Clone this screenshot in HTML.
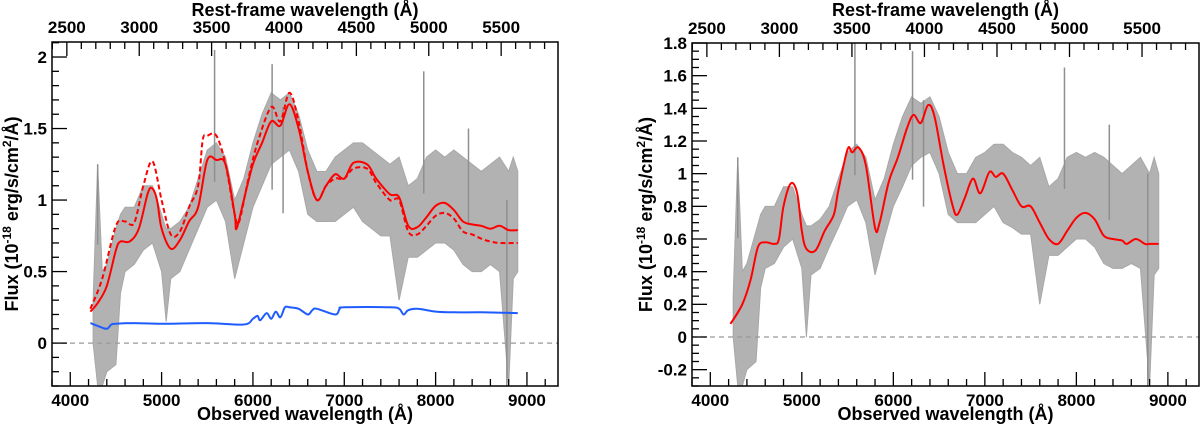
<!DOCTYPE html>
<html><head><meta charset="utf-8"><style>
body{margin:0;background:#fff;}
svg text{font-family:"Liberation Sans",Arial,sans-serif;font-weight:bold;fill:#000;}
</style></head><body>
<svg id="fig" width="1200" height="425" viewBox="0 0 1200 425" xmlns="http://www.w3.org/2000/svg"></svg>
<script>
// ---- data ----
const grayWlL=[4250,4300,4350,4400,4500,4550,4600,4700,4800,4900,5000,5050,5100,5200,5300,5400,5500,5600,5700,5800,5900,6000,6100,6200,6300,6400,6500,6600,6700,6800,6900,7000,7100,7200,7300,7400,7500,7600,7700,7800,7900,8000,8100,8200,8300,8400,8500,8600,8700,8800,8850,8900];
const grayHiL=[0.3,1.25,0.5,0.55,0.8,0.9,0.95,0.95,1.1,1.1,0.9,0.8,0.8,0.85,0.95,1.15,1.35,1.4,1.3,1.0,1.15,1.4,1.6,1.75,1.7,1.75,1.6,1.35,1.2,1.2,1.3,1.35,1.4,1.4,1.35,1.3,1.25,1.3,1.1,1.15,1.3,1.35,1.3,1.35,1.3,1.25,1.2,1.25,1.3,1.2,1.3,1.2];
const grayLoL=[0.0,-0.3,-0.3,-0.2,-0.15,0.35,0.5,0.55,0.65,0.7,0.5,0.15,0.45,0.5,0.65,0.8,0.95,1.0,0.85,0.45,0.7,0.95,1.1,1.25,1.3,1.35,1.2,0.9,0.85,0.85,0.85,0.9,0.95,0.85,0.8,0.75,0.75,0.3,0.6,0.6,0.65,0.7,0.7,0.65,0.55,0.5,0.5,0.55,0.5,-0.3,0.45,0.5];
const spikeWlL=[4300,5580,6210,6330,7870,8360,8780];
const spikeTopL=[1.25,2.05,1.95,1.65,1.9,1.5,-0.3];
const redWlL=[4220,4300,4400,4500,4550,4650,4750,4850,4900,4950,5000,5100,5200,5300,5400,5500,5600,5700,5800,5820,5900,6000,6100,6200,6300,6400,6500,6600,6700,6800,6900,7000,7100,7250,7350,7500,7600,7700,7800,7900,8000,8100,8200,8300,8400,8500,8600,8700,8800,8900];
const redL=[0.22,0.28,0.4,0.65,0.71,0.71,0.8,1.05,1.08,1.0,0.8,0.66,0.72,0.85,0.95,1.28,1.28,1.25,0.9,0.8,1.0,1.25,1.4,1.55,1.52,1.67,1.5,1.2,1.0,1.1,1.18,1.15,1.26,1.25,1.15,1.04,1.02,0.82,0.81,0.88,0.96,0.98,0.93,0.85,0.83,0.82,0.8,0.82,0.79,0.79];
const dashWlL=[4220,4350,4500,4600,4700,4800,4900,5000,5100,5200,5300,5400,5450,5500,5600,5700,5800,5850,5950,6050,6200,6300,6400,6500,6600,6700,6800,6900,7000,7100,7250,7350,7500,7600,7700,7800,7900,8000,8100,8200,8300,8400,8500,8600,8700,8900];
const dashL=[0.24,0.45,0.82,0.85,0.84,1.1,1.27,1.0,0.76,0.78,0.95,1.1,1.42,1.45,1.45,1.25,0.9,0.85,1.15,1.4,1.65,1.55,1.75,1.55,1.2,1.0,1.1,1.15,1.15,1.22,1.22,1.12,1.0,1.0,0.78,0.76,0.82,0.89,0.91,0.87,0.78,0.76,0.73,0.71,0.7,0.7];
const blueWl=[4220,4300,4400,4450,4500,4700,5000,5500,5900,6000,6050,6080,6150,6200,6250,6300,6350,6400,6500,6600,6650,6700,6900,6950,7000,7500,7600,7650,7700,7800,8000,8200,8500,8900];
const blueL=[0.14,0.12,0.1,0.13,0.135,0.14,0.135,0.14,0.13,0.17,0.19,0.16,0.21,0.17,0.22,0.18,0.25,0.25,0.24,0.2,0.23,0.24,0.2,0.24,0.25,0.25,0.24,0.2,0.23,0.24,0.22,0.215,0.215,0.21];

const grayHiR=[0.25,1.1,0.4,0.45,0.65,0.75,0.8,0.8,0.92,0.92,0.75,0.68,0.68,0.72,0.8,0.97,1.13,1.18,1.1,0.84,0.97,1.18,1.35,1.47,1.43,1.47,1.35,1.13,1.0,1.0,1.1,1.13,1.18,1.18,1.13,1.1,1.05,1.1,0.92,0.97,1.1,1.13,1.1,1.13,1.1,1.05,1.0,1.05,1.1,1.0,1.1,1.0];
const grayLoR=[0.0,-0.3,-0.3,-0.2,-0.15,0.3,0.42,0.45,0.55,0.6,0.42,0.0,0.38,0.42,0.55,0.67,0.8,0.84,0.7,0.38,0.6,0.8,0.92,1.05,1.1,1.13,1.0,0.75,0.7,0.7,0.7,0.75,0.8,0.7,0.67,0.63,0.63,0.2,0.5,0.5,0.55,0.6,0.6,0.55,0.45,0.42,0.42,0.45,0.42,-0.3,0.38,0.42];
const spikeTopR=[1.1,1.8,1.75,1.45,1.65,1.3,-0.3];
const redWlR=[4220,4350,4440,4520,4600,4700,4750,4800,4880,4950,5000,5050,5150,5250,5350,5400,5500,5550,5620,5700,5800,5850,5950,6050,6150,6220,6300,6380,6450,6550,6650,6700,6780,6870,6950,7050,7120,7200,7300,7400,7500,7600,7700,7800,7900,8000,8100,8200,8300,8400,8500,8550,8650,8750,8800,8900];
const redR=[0.08,0.2,0.35,0.55,0.58,0.57,0.6,0.8,0.94,0.88,0.65,0.54,0.53,0.65,0.75,0.9,1.15,1.13,1.16,1.05,0.67,0.7,0.95,1.1,1.28,1.36,1.31,1.42,1.35,1.05,0.8,0.75,0.85,0.97,0.88,1.01,0.98,1.0,0.9,0.8,0.8,0.7,0.6,0.57,0.65,0.73,0.76,0.72,0.62,0.6,0.59,0.57,0.6,0.57,0.57,0.57];
const obsTicks=[4000,5000,6000,7000,8000,9000];
const restTicks=[2500,3000,3500,4000,4500,5000,5500];
const yTicksL=[0,0.5,1,1.5,2];
const yTicksR=[-0.2,0,0.2,0.4,0.6,0.8,1,1.2,1.4,1.6,1.8];

const NS="http://www.w3.org/2000/svg";
const svg=document.getElementById('fig');
function el(tag,attrs,parent){const e=document.createElementNS(NS,tag);for(const k in attrs)e.setAttribute(k,attrs[k]);(parent||svg).appendChild(e);return e;}
const Z=1.585;
function smooth(P){
  let d='M'+P[0][0].toFixed(1)+','+P[0][1].toFixed(1);
  for(let i=0;i<P.length-1;i++){
    const p0=P[Math.max(0,i-1)],p1=P[i],p2=P[i+1],p3=P[Math.min(P.length-1,i+2)];
    const c1x=p1[0]+(p2[0]-p0[0])/6,c1y=p1[1]+(p2[1]-p0[1])/6;
    const c2x=p2[0]-(p3[0]-p1[0])/6,c2y=p2[1]-(p3[1]-p1[1])/6;
    d+='C'+c1x.toFixed(1)+','+c1y.toFixed(1)+' '+c2x.toFixed(1)+','+c2y.toFixed(1)+' '+p2[0].toFixed(1)+','+p2[1].toFixed(1);
  }
  return d;
}

function panel(P){
  const g=el('g',{});
  
  
  const xs=w=>P.x0+(w-3800)/(9340-3800)*(P.x1-P.x0);
  const ys=v=>P.y1-(v-P.ymin)/(P.ymax-P.ymin)*(P.y1-P.y0);
  const cp=el('clipPath',{id:'c'+P.name},g);
  el('rect',{x:P.x0,y:P.y0,width:P.x1-P.x0,height:P.y1-P.y0},cp);
  const pg=el('g',{'clip-path':'url(#c'+P.name+')'},g);
  let pts=[];
  for(let i=0;i<grayWlL.length;i++)pts.push(xs(grayWlL[i])+','+ys(P.hi[i]));
  for(let i=grayWlL.length-1;i>=0;i--)pts.push(xs(grayWlL[i])+','+ys(P.lo[i]));
  const band=el('polygon',{points:pts.join(' '),fill:'#b2b2b2',stroke:'#a8a8a8','stroke-width':1},pg);
  
  
  for(let i=0;i<spikeWlL.length;i++){
    const s=el('line',{x1:xs(spikeWlL[i]),x2:xs(spikeWlL[i]),y1:ys(P.spk[i]),y2:ys(P.spk[i]*0.55),stroke:'#8f8f8f','stroke-width':1.5},pg);
    if(P.spk[i]<0){s.setAttribute('y1',ys(1.0));s.setAttribute('y2',ys(-0.3));}
    
    
  }
  const zl=el('line',{x1:P.x0,x2:P.x1,y1:ys(0),y2:ys(0),stroke:'#999','stroke-width':1.2,'stroke-dasharray':'5,4'},pg);
  
  
  function line(wl,v,color,dash,name){
    const d=smooth(wl.map((w,i)=>[xs(w),ys(v[i])]));
    const p=el('path',{d:d,fill:'none',stroke:color,'stroke-width':2,'stroke-linejoin':'round'},pg);
    if(dash)p.setAttribute('stroke-dasharray',dash);
    
    
  }
  P.lines.forEach(l=>line(l[0],l[1],l[2],l[3],l[4]));
  const bx=el('rect',{x:P.x0,y:P.y0,width:P.x1-P.x0,height:P.y1-P.y0,fill:'none',stroke:'#000','stroke-width':1.5},g);
  
  
  for(let w=3800;w<=9340;w+=200){const X=xs(w);const maj=w%1000===0;el('line',{x1:X,x2:X,y1:P.y1,y2:P.y1-(maj?14:7),stroke:'#000','stroke-width':1.3},g);}
  obsTicks.forEach(w=>{const t=el('text',{x:xs(w),y:P.y1+20,'text-anchor':'middle','font-size':17},g);t.textContent=w;
    });
  for(let r=2400;r<=5900;r+=100){const X=xs(r*Z);if(X<P.x0||X>P.x1)continue;const maj=r%500===0;el('line',{x1:X,x2:X,y1:P.y0,y2:P.y0+(maj?14:7),stroke:'#000','stroke-width':1.3},g);}
  restTicks.forEach(r=>{const t=el('text',{x:xs(r*Z),y:P.y0-9,'text-anchor':'middle','font-size':17},g);t.textContent=r;
    });
  for(let k=Math.ceil(P.ymin/P.minor-1e-6);k*P.minor<=P.ymax+1e-9;k++){const v=k*P.minor;const Y=ys(v);
    const maj=Math.abs(v/P.major-Math.round(v/P.major))<1e-6;el('line',{x1:P.x0,x2:P.x0+(maj?15:7),y1:Y,y2:Y,stroke:'#000','stroke-width':1.3},g);}
  P.yt.forEach(v=>{const t=el('text',{x:P.x0-5,y:ys(v)+6,'text-anchor':'end','font-size':17},g);t.textContent=String(v);
    });
  const cx=(P.x0+P.x1)/2;
  const xt=el('text',{x:cx,y:420,'text-anchor':'middle','font-size':18},g);xt.textContent='Observed wavelength (Å)';
  
  const tt=el('text',{x:cx,y:16,'text-anchor':'middle','font-size':18},g);tt.textContent='Rest-frame wavelength (Å)';
  
  const yc=(P.y0+P.y1)/2;
  const yt=el('text',{x:P.ytx,y:yc,'text-anchor':'middle','font-size':18,transform:'rotate(-90 '+P.ytx+' '+yc+')'},g);
  yt.innerHTML='Flux (10<tspan dy="-7" font-size="12">-18</tspan><tspan dy="7"> erg/s/cm</tspan><tspan dy="-7" font-size="12">2</tspan><tspan dy="7">/Å)</tspan>';
  
}
panel({name:'left-panel',x0:52,x1:558,y0:42,y1:386,ymin:-0.3,ymax:2.105,minor:0.1,major:0.5,yt:yTicksL,ytx:18,
  hi:grayHiL,lo:grayLoL,spk:spikeTopL,
  lines:[[blueWl,blueL,'#1f5cff',null,'blue-spectrum-line'],[dashWlL,dashL,'#f00','5,3','red-dashed-model'],[redWlL,redL,'#f00',null,'red-model-line']]});
panel({name:'right-panel',x0:692,x1:1199,y0:43,y1:386,ymin:-0.3,ymax:1.8,minor:0.05,major:0.2,yt:yTicksR,ytx:652,
  hi:grayHiR,lo:grayLoR,spk:spikeTopR,
  lines:[[redWlR,redR,'#f00',null,'red-model-line']]});
</script>
</body></html>
